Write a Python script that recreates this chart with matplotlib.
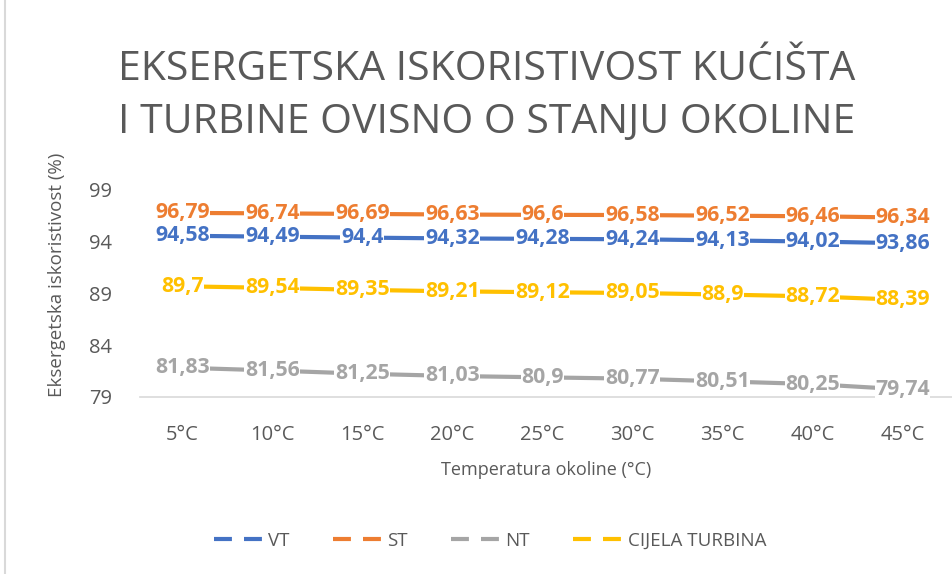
import matplotlib
matplotlib.use("Agg")
import matplotlib.pyplot as plt
from matplotlib.lines import Line2D

categories = ["5°C", "10°C", "15°C", "20°C", "25°C", "30°C", "35°C", "40°C", "45°C"]
vt = [94.58, 94.49, 94.40, 94.32, 94.28, 94.24, 94.13, 94.02, 93.86]
st = [96.79, 96.74, 96.69, 96.63, 96.60, 96.58, 96.52, 96.46, 96.34]
nt = [81.83, 81.56, 81.25, 81.03, 80.90, 80.77, 80.51, 80.25, 79.74]
cijela = [89.70, 89.54, 89.35, 89.21, 89.12, 89.05, 88.90, 88.72, 88.39]
series_names = ["VT", "ST", "NT", "CIJELA TURBINA"]
yticks = [79, 84, 89, 94, 99]

colors = ["#4472C4", "#ED7D31", "#A5A5A5", "#FFC000"]
series = [vt, st, nt, cijela]

plt.rcParams['font.family'] = ['Open Sans', 'DejaVu Sans']
fig = plt.figure(figsize=(9.52, 5.74), dpi=100)
ax = fig.add_axes([140/952, 1-397/574, (952-140)/952, (397-190)/574])

x = list(range(len(categories)))
for vals, c in zip(series, colors):
    ax.plot(x, vals, color=c, lw=3.0, solid_capstyle='round', zorder=2)
    for xi, v in zip(x, vals):
        lbl = f"{v:g}".replace(".", ",")
        ax.text(xi, v, lbl, color=c, fontsize=15.3, fontweight='bold',
                ha='center', va='center', zorder=3, clip_on=False,
                bbox=dict(boxstyle='square,pad=0.03', fc='white', ec='none'))

ax.set_xlim(-0.47, 8.55)
ax.set_ylim(79, 99)
ax.set_yticks(yticks)
ax.set_xticks(x)
ax.set_xticklabels(categories)
ax.tick_params(axis='both', length=0, labelsize=14.5, labelcolor='#595959')
ax.tick_params(axis='x', pad=20)
ax.tick_params(axis='y', pad=20)
for s in ['top', 'right', 'left']:
    ax.spines[s].set_visible(False)
ax.spines['bottom'].set_color('#D9D9D9')
ax.spines['bottom'].set_linewidth(1.2)

ax.set_xlabel("Temperatura okoline (°C)", fontsize=13, color='#595959', labelpad=12)
ax.set_ylabel("Eksergetska iskoristivost (%)", fontsize=13.5, color='#595959',
              va='center', ha='center')
ax.yaxis.set_label_coords((57 - 140) / 812, 0.59)

fig.text(487/952, 1-96/574, "EKSERGETSKA ISKORISTIVOST KUĆIŠTA\nI TURBINE OVISNO O STANJU OKOLINE",
         ha='center', va='center', fontsize=29.5, color='#595959', linespacing=1.4)

handles = [Line2D([0], [0], color=c, lw=3, ls=(0, (4.3, 2.9)), dash_capstyle='butt') for c in colors]
fig.legend(handles, series_names, loc='center', bbox_to_anchor=(490/952, 1-541/574),
           ncol=4, frameon=False, fontsize=13.5, labelcolor='#595959',
           handlelength=2.7, columnspacing=2.3, handletextpad=0.2)

fig.add_artist(Line2D([5/952, 5/952], [0, 1], transform=fig.transFigure, color='#D9D9D9', lw=1.5))

fig.savefig("out.png", dpi=100)
